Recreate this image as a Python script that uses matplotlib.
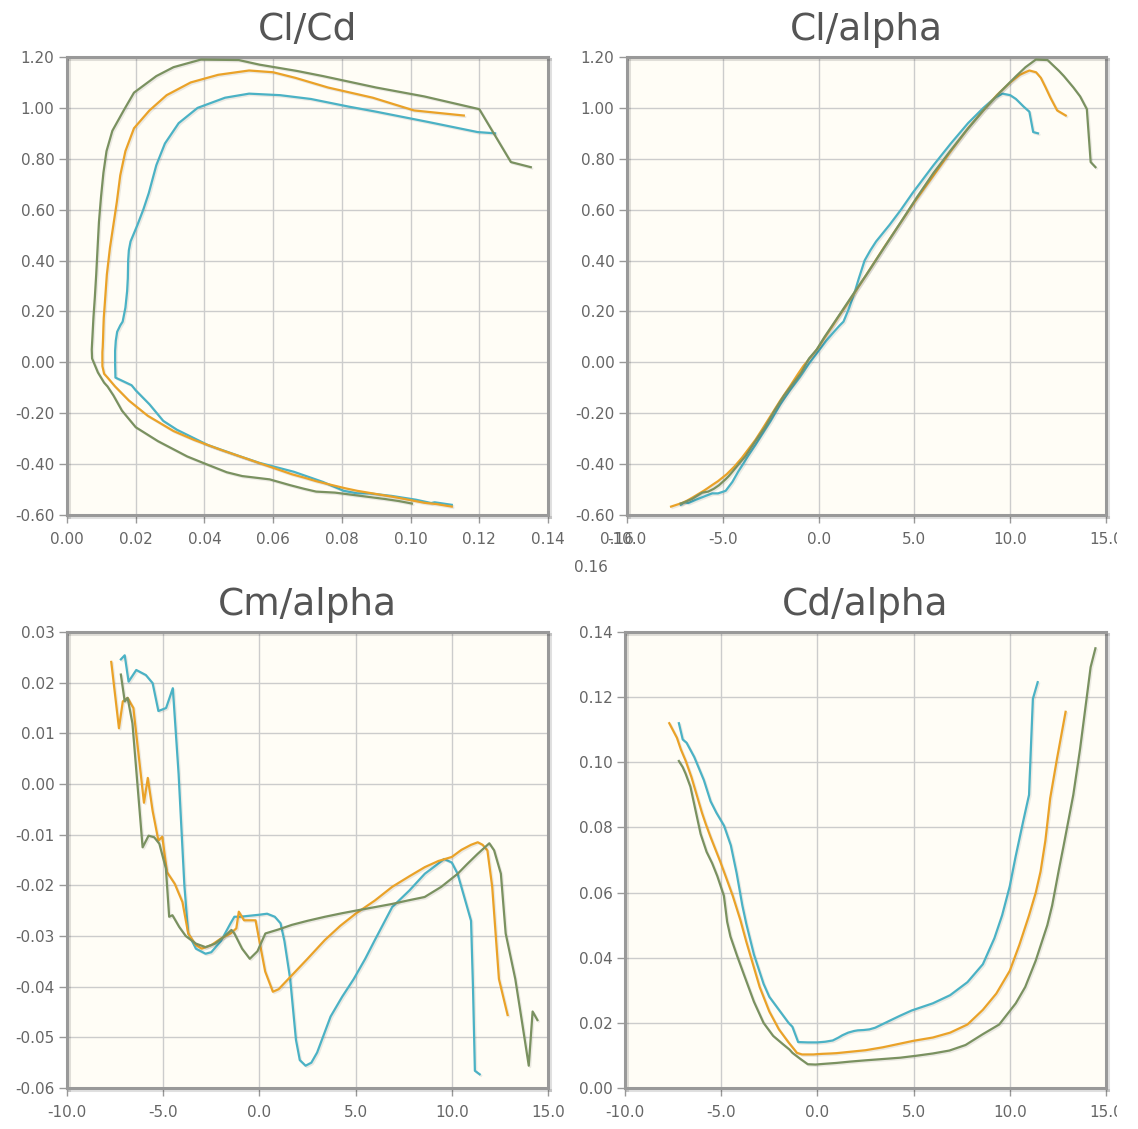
import numpy as np
import matplotlib
matplotlib.use("Agg")
import matplotlib.pyplot as plt
from matplotlib import patheffects
from matplotlib.transforms import Bbox, TransformedBbox

# polar data, one block per Reynolds number (alpha in deg)
blue_alpha = [-7.2, -7.0, -6.8, -6.4, -5.9, -5.55, -5.25, -4.85, -4.5, -4.2, -3.9, -3.7,
              -3.3, -2.8, -2.5, -2.0, -1.5, -1.3, -1.0, -0.5, 0.0, 0.4, 0.8, 1.1, 1.3,
              1.6, 1.9, 2.1, 2.4, 2.7, 3.0, 3.7, 4.3, 4.9, 5.5, 6.0, 6.9, 7.8, 8.6, 9.2,
              9.6, 10.0, 10.3, 10.7, 11.0, 11.1, 11.2, 11.45]
blue_cl = [-0.560, -0.550, -0.553, -0.540, -0.525, -0.515, -0.515, -0.505, -0.470, -0.430,
           -0.395, -0.370, -0.325, -0.265, -0.230, -0.165, -0.110, -0.090, -0.060, -0.005,
           0.045, 0.085, 0.120, 0.145, 0.160, 0.215, 0.280, 0.330, 0.400, 0.440, 0.475,
           0.540, 0.600, 0.665, 0.725, 0.775, 0.860, 0.940, 1.000, 1.040, 1.056, 1.050,
           1.035, 1.005, 0.985, 0.945, 0.905, 0.900]
blue_cd = [0.1120, 0.1070, 0.1060, 0.1016, 0.0945, 0.0880, 0.0845, 0.0805, 0.0745, 0.0660,
           0.0560, 0.0505, 0.0410, 0.0320, 0.0280, 0.0240, 0.0200, 0.0188, 0.0141, 0.0140,
           0.0140, 0.0142, 0.0146, 0.0155, 0.0162, 0.0170, 0.0175, 0.0177, 0.0178, 0.0180,
           0.0185, 0.0205, 0.0222, 0.0238, 0.0250, 0.0260, 0.0285, 0.0325, 0.0380, 0.0460,
           0.0530, 0.0620, 0.0710, 0.0820, 0.0900, 0.1050, 0.1195, 0.1246]
blue_cm = [0.0246, 0.0254, 0.0202, 0.0225, 0.0215, 0.0199, 0.0144, 0.0150, 0.0189, 0.0020,
           -0.0200, -0.0295, -0.0325, -0.0335, -0.0332, -0.0310, -0.0275, -0.0262, -0.0262,
           -0.0260, -0.0258, -0.0256, -0.0262, -0.0275, -0.0310, -0.0385, -0.0505, -0.0545,
           -0.0556, -0.0550, -0.0530, -0.0459, -0.0420, -0.0385, -0.0345, -0.0308, -0.0243,
           -0.0210, -0.0177, -0.0160, -0.0148, -0.0155, -0.0177, -0.0230, -0.0270, -0.0400,
           -0.0566, -0.0573]

orange_alpha = [-7.7, -7.3, -7.1, -6.85, -6.55, -6.0, -5.8, -5.55, -5.25, -5.05, -4.8, -4.4,
                -4.0, -3.7, -3.3, -3.0, -2.5, -2.0, -1.5, -1.2, -1.07, -0.8, -0.2, 0.0, 0.3,
                0.7, 1.0, 1.5, 2.5, 3.4, 4.2, 5.0, 6.0, 6.9, 7.8, 8.6, 9.3, 10.0, 10.5, 11.0,
                11.35, 11.6, 11.85, 12.1, 12.45, 12.9]
orange_cl = [-0.567, -0.557, -0.552, -0.543, -0.530, -0.505, -0.495, -0.482, -0.467, -0.455,
             -0.440, -0.410, -0.375, -0.345, -0.305, -0.270, -0.210, -0.150, -0.095, -0.060,
             -0.045, -0.015, 0.040, 0.060, 0.095, 0.140, 0.175, 0.230, 0.345, 0.450, 0.540,
             0.630, 0.735, 0.830, 0.920, 0.990, 1.050, 1.100, 1.130, 1.147, 1.140, 1.118,
             1.080, 1.040, 0.990, 0.970]
orange_cd = [0.1120, 0.1075, 0.1040, 0.1005, 0.0955, 0.0845, 0.0810, 0.0770, 0.0725, 0.0695,
             0.0655, 0.0590, 0.0515, 0.0450, 0.0370, 0.0310, 0.0235, 0.0180, 0.0140, 0.0118,
             0.0108, 0.0103, 0.0103, 0.0104, 0.0105, 0.0106, 0.0107, 0.0110, 0.0116, 0.0125,
             0.0135, 0.0145, 0.0155, 0.0170, 0.0195, 0.0240, 0.0290, 0.0360, 0.0440, 0.0530,
             0.0600, 0.0665, 0.0760, 0.0890, 0.1010, 0.1155]
orange_cm = [0.0241, 0.0110, 0.0163, 0.0170, 0.0150, -0.0037, 0.0012, -0.0053, -0.0112,
             -0.0104, -0.0174, -0.0197, -0.0233, -0.0295, -0.0318, -0.0325, -0.0318, -0.0305,
             -0.0295, -0.0285, -0.0252, -0.0269, -0.0269, -0.0310, -0.0370, -0.0410, -0.0405,
             -0.0385, -0.0345, -0.0308, -0.0280, -0.0256, -0.0230, -0.0203, -0.0182, -0.0164,
             -0.0152, -0.0144, -0.0130, -0.0120, -0.0115, -0.0120, -0.0131, -0.0203, -0.0385,
             -0.0456]

green_alpha = [-7.2, -7.0, -6.85, -6.6, -6.07, -5.76, -5.47, -5.2, -4.86, -4.69, -4.52, -4.17,
               -3.83, -3.3, -2.8, -2.3, -1.8, -1.45, -1.3, -0.9, -0.5, -0.1, 0.31, 1.0, 1.69,
               2.5, 3.41, 4.3, 5.14, 6.0, 6.86, 7.7, 8.59, 9.45, 10.31, 10.8, 11.34, 11.95,
               12.2, 12.55, 12.8, 13.3, 13.65, 14.0, 14.2, 14.45]
green_cl = [-0.555, -0.550, -0.545, -0.537, -0.512, -0.508, -0.497, -0.483, -0.460, -0.447,
            -0.432, -0.400, -0.370, -0.310, -0.255, -0.190, -0.130, -0.095, -0.080, -0.040,
            0.015, 0.050, 0.100, 0.177, 0.255, 0.345, 0.450, 0.552, 0.650, 0.745, 0.830,
            0.910, 0.990, 1.060, 1.125, 1.160, 1.190, 1.188, 1.170, 1.145, 1.125, 1.080,
            1.045, 0.995, 0.787, 0.767]
green_cd = [0.1004, 0.0985, 0.0965, 0.0925, 0.0780, 0.0725, 0.0690, 0.0650, 0.0590, 0.0510,
            0.0465, 0.0405, 0.0350, 0.0265, 0.0200, 0.0160, 0.0135, 0.0118, 0.0108, 0.0090,
            0.0073, 0.0072, 0.0074, 0.0077, 0.0081, 0.0085, 0.0089, 0.0093, 0.0099, 0.0106,
            0.0115, 0.0132, 0.0165, 0.0195, 0.0260, 0.0310, 0.0390, 0.0500, 0.0560, 0.0670,
            0.0745, 0.0900, 0.1040, 0.1200, 0.1292, 0.1350]
green_cm = [0.0216, 0.0163, 0.0170, 0.0120, -0.0125, -0.0102, -0.0105, -0.0118, -0.0167,
            -0.0262, -0.0259, -0.0282, -0.0300, -0.0315, -0.0322, -0.0315, -0.0300, -0.0288,
            -0.0295, -0.0325, -0.0345, -0.0330, -0.0295, -0.0287, -0.0278, -0.0270, -0.0262,
            -0.0255, -0.0249, -0.0243, -0.0237, -0.0230, -0.0223, -0.0203, -0.0177, -0.0158,
            -0.0138, -0.0117, -0.0131, -0.0177, -0.0295, -0.0385, -0.0470, -0.0556, -0.0449,
            -0.0466]

series_colors = ["#4bb2c5", "#eaa228", "#7a9160"]

W, H = 1138, 1129
BG = "#fffdf6"
BORDER = "#999999"
TICK_SIZE = 11


def px_rect(x0, y0, x1, y1):
    # pixel box (top-left origin) -> figure fraction rect
    return [x0 / W, 1 - y1 / H, (x1 - x0) / W, (y1 - y0) / H]


def style_axes(ax, title, xticks, xfmt, yticks, yfmt):
    ax.set_facecolor(BG)
    ax.set_xlim(xticks[0], xticks[-1])
    ax.set_ylim(yticks[0], yticks[-1])
    ax.set_xticks(xticks)
    ax.set_yticks(yticks)
    ax.set_xticklabels([xfmt % v for v in xticks])
    ax.set_yticklabels([yfmt % v for v in yticks])
    ax.grid(True, color="#cccccc", linewidth=1)
    ax.set_axisbelow(True)
    shadow = [patheffects.SimpleLineShadow(offset=(1.2, -1.2), alpha=0.12),
              patheffects.Normal()]
    for sp in ax.spines.values():
        sp.set_color(BORDER)
        sp.set_linewidth(2.2)
        sp.set_path_effects(shadow)
    ax.tick_params(direction="out", length=6, width=1, color=BORDER,
                   labelcolor="#666666", labelsize=TICK_SIZE)
    ax.tick_params(axis="x", pad=6)
    ax.tick_params(axis="y", pad=3)
    ax.set_title(title, fontsize=27, color="#555555", pad=12)


def draw_lines(ax, xs, ys):
    shadow = [patheffects.SimpleLineShadow(offset=(1, -1), alpha=0.08),
              patheffects.Normal()]
    for x, y, c in zip(xs, ys, series_colors):
        ax.plot(x, y, color=c, linewidth=1.6, path_effects=shadow, zorder=3)


fig = plt.figure(figsize=(W / 100, H / 100), dpi=100)

alphas = [blue_alpha, orange_alpha, green_alpha]
cls = [blue_cl, orange_cl, green_cl]
cds = [blue_cd, orange_cd, green_cd]
cms = [blue_cm, orange_cm, green_cm]

alpha_ticks = np.arange(-10, 15.1, 5)
cl_ticks = np.round(np.arange(-0.6, 1.21, 0.2), 2)

ax1 = fig.add_axes(px_rect(67, 57, 548, 515))
style_axes(ax1, "Cl/Cd", np.round(np.arange(0, 0.141, 0.02), 2), "%.2f", cl_ticks, "%.2f")
draw_lines(ax1, cds, cls)

ax2 = fig.add_axes(px_rect(627, 57, 1106, 515))
style_axes(ax2, "Cl/alpha", alpha_ticks, "%.1f", cl_ticks, "%.2f")
draw_lines(ax2, alphas, cls)

ax3 = fig.add_axes(px_rect(67, 632, 548, 1088))
style_axes(ax3, "Cm/alpha", alpha_ticks, "%.1f",
           np.round(np.arange(-0.06, 0.031, 0.01), 2), "%.2f")
draw_lines(ax3, alphas, cms)

ax4 = fig.add_axes(px_rect(625, 632, 1106, 1088))
style_axes(ax4, "Cd/alpha", alpha_ticks, "%.1f",
           np.round(np.arange(0, 0.141, 0.02), 2), "%.2f")
draw_lines(ax4, alphas, cds)

# the right-hand charts run up to the page edge: last tick label gets cut
edge = TransformedBbox(Bbox([[0, 0], [1117 / W, 1]]), fig.transFigure)
for ax in (ax2, ax4):
    last = ax.get_xticklabels()[-1]
    last.set_clip_box(edge)
    last.set_clip_on(True)

# overflowing 0.16 label of the Cl/Cd axis (spills under the next chart)
fig.text(617 / W, 1 - 539 / H, "0.16", ha="center", va="center",
         fontsize=TICK_SIZE, color="#666666")
fig.text(591 / W, 1 - 567 / H, "0.16", ha="center", va="center",
         fontsize=TICK_SIZE, color="#666666")

fig.savefig("out.png", dpi=100, facecolor="white")
